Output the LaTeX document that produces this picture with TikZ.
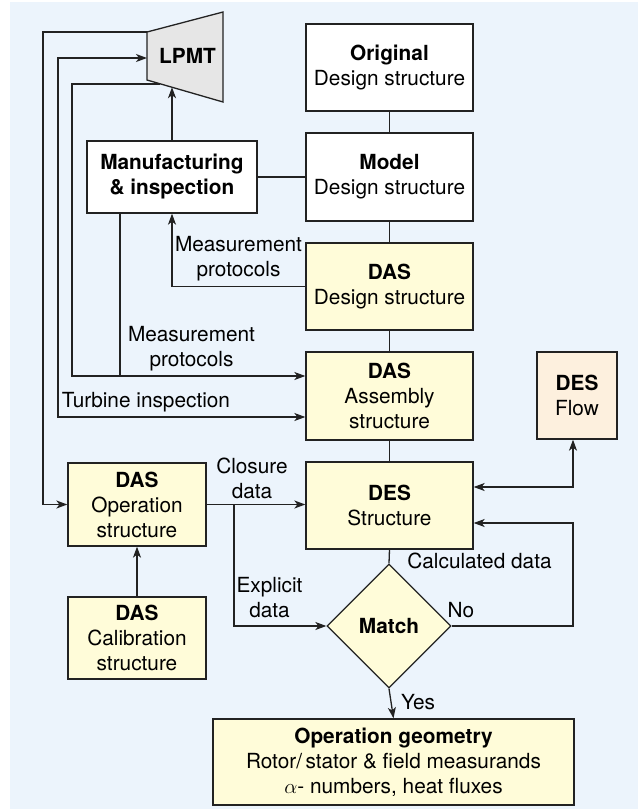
\documentclass[tikz,border=0pt]{standalone}
\usepackage{fontspec}
\setmainfont{TeX Gyre Heros}
\usetikzlibrary{arrows.meta,shapes.geometric}
\definecolor{panel}{RGB}{236,244,252}
\definecolor{yel}{RGB}{255,252,217}
\definecolor{peach}{RGB}{253,240,222}
\definecolor{lgray}{RGB}{230,230,230}
\definecolor{lin}{RGB}{34,34,34}
\begin{document}
\begin{tikzpicture}[x=1pt,y=-1pt,font=\fontsize{20.8}{25}\selectfont,
  box/.style={draw=lin,line width=1.3pt,fill=white,align=center,inner sep=0pt,text=black},
  ybox/.style={box,fill=yel},
  sz/.style 2 args={minimum width=#1pt,minimum height=#2pt},
  conn/.style={draw=lin,line width=1.3pt},
  arr/.style={conn,-{Stealth[length=11pt,width=8pt,inset=3pt]}},
  arrboth/.style={conn,{Stealth[length=11pt,width=8pt,inset=3pt]}-{Stealth[length=11pt,width=8pt,inset=3pt]}},
  lbl/.style={align=center,inner sep=0pt,text=black}]
\useasboundingbox (0,0) rectangle (638,809);
\fill[panel] (10,2) rectangle (638,809);

% LPMT geometry
\coordinate (lpTL) at (147,32);
\coordinate (lpTR) at (223,12);
\coordinate (lpBR) at (223,102);
\coordinate (lpBL) at (147,80);
\coordinate (lpTop) at (157,32);
\coordinate (lpLeft) at (147,58);
\coordinate (lpLow) at (160,84);
\coordinate (lpIn) at (172,87.2);
\coordinate (fx) at (573,0);

% boxes
\node[box,sz={167}{87}] (orig) at (389.5,67.5) {\textbf{Original}\\Design structure};
\node[box,sz={167}{88}] (model) at (389.5,177) {\textbf{Model}\\Design structure};
\node[ybox,sz={167}{87}] (dasd) at (389.5,286.5) {\textbf{DAS}\\Design structure};
\node[ybox,sz={167}{88}] (dasa) at (389.5,396) {\textbf{DAS}\\Assembly\\structure};
\node[ybox,sz={167}{87}] (dess) at (389.5,505.5) {\textbf{DES}\\Structure};
\node[box,fill=peach,sz={80}{87}] (flow) at (577,395.5) {\textbf{DES}\\Flow};
\node[box,sz={170}{72}] (manu) at (172,177) {\textbf{Manufacturing}\\\textbf{\& inspection}};
\node[ybox,sz={138}{83}] (dasop) at (137,504.5) {\textbf{DAS}\\Operation\\structure};
\node[ybox,sz={138}{82}] (dascal) at (137,638) {\textbf{DAS}\\Calibration\\structure};
\node[ybox,diamond,aspect=1,minimum width=124pt,minimum height=124pt] (match) at (389,626) {\textbf{Match}};
\node[ybox,sz={361}{86}] (opgeo) at (393.5,762) {\textbf{Operation geometry}\\Rotor/\,stator \& field measurands\\$\alpha$- numbers, heat fluxes};

% connectors to/from LPMT
\draw[arr] (lpTop) -- (43,32) |- (dasop.west);
\draw[arrboth] (lpLeft) -- (58,58) |- ([yshift=-21pt]dasa.west);
\draw[arr] (lpLow) -- (72,84) |- ([yshift=20pt]dasa.west);
\coordinate (mj) at (120,376);
\draw[conn] (manu.south -| mj) -- (mj);
\draw[arr] (manu.north) -- (lpIn);
\draw[conn] (manu.east) -- (model.west);
\draw[arr] (dasd.west) -| (manu.south);

% vertical chain
\draw[conn] (orig.south) -- (model.north);
\draw[conn] (model.south) -- (dasd.north);
\draw[conn] (dasd.south) -- (dasa.north);
\draw[conn] (dasa.south) -- (dess.north);
\draw[conn] (dess.south) -- (match.north);

% operation / calibration
\draw[arr] (dasop.east) -- (dasop.east -| dess.west);
\coordinate (br) at (234,504.5);
\draw[arr] (br) |- (match.west);
\draw[arr] (dascal.north) -- (dasop.south);

% DES flow and No loop
\draw[arrboth] ([yshift=18.5pt]dess.east) -| (flow.south -| fx);
\draw[arr] (match.east) -- (match.east -| fx) |- ([yshift=-17.5pt]dess.east);
\draw[arr] (match.south) -- (opgeo.north);

% LPMT shape on top
\draw[conn,fill=lgray] (lpTL) -- (lpTR) -- (lpBR) -- (lpBL) -- cycle;
\node[lbl,anchor=base] (lpmt) at (187.5,63) {\textbf{LPMT}};

% labels
\node[lbl] (l1) at (238.5,258.5) {Measurement\\protocols};
\node[lbl] (l2) at (191.5,348.5) {Measurement\\protocols};
\node[lbl,anchor=base] (l3) at (146,407) {Turbine inspection};
\node[lbl] (l4) at (252,478) {Closure\\data};
\node[lbl] (l5) at (269.5,598) {Explicit\\data};
\node[lbl,anchor=base] (l6) at (479.5,568) {Calculated data};
\node[lbl,anchor=base] (l7) at (461,617) {No};
\node[lbl,anchor=base] (l8) at (418,709) {Yes};
\end{tikzpicture}
\end{document}
